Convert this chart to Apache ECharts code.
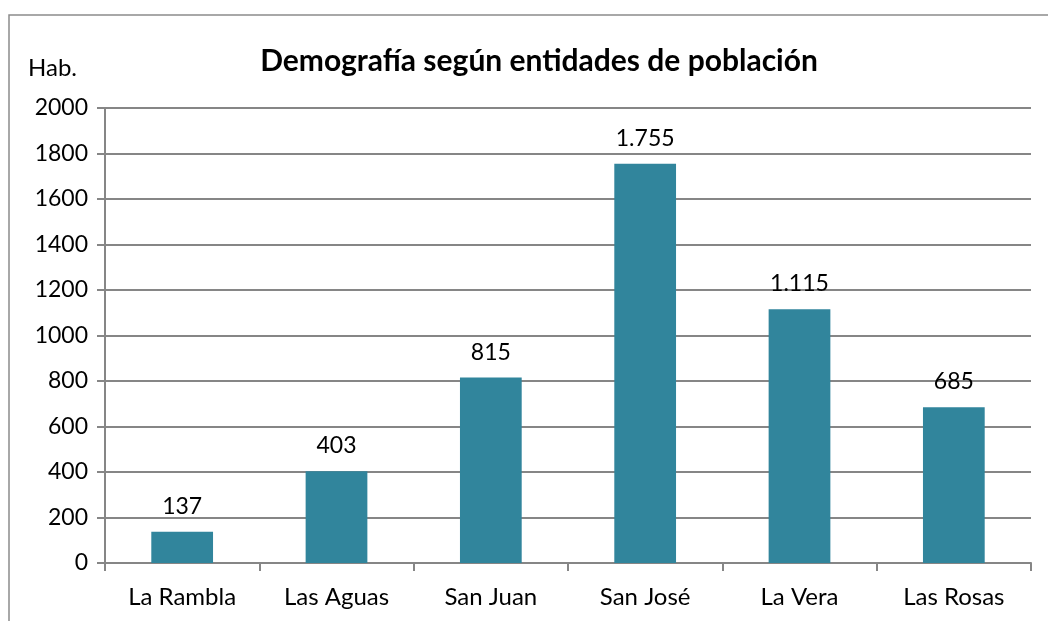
<!DOCTYPE html>
<html>
<head>
<meta charset="utf-8">
<script src="https://cdn.jsdelivr.net/npm/echarts@6/dist/echarts.min.js"></script>
<style>
  html, body { margin: 0; padding: 0; background: #fff; }
  #chart { width: 1048px; height: 621px; }
</style>
</head>
<body>
<div id="chart"></div>
<script>
// datos
var categorias = ['La Rambla', 'Las Aguas', 'San Juan', 'San José', 'La Vera', 'Las Rosas']
var habitantes = [137, 403, 815, 1755, 1115, 685]
var titulo = 'Demografía según entidades de población'

function fmtMiles(v) {
  return String(v).replace(/\B(?=(\d{3})+(?!\d))/g, '.')
}

var myChart = echarts.init(document.getElementById('chart'))
var fuente = 'Lato, "Open Sans", sans-serif'
var option = {
  animation: false,
  textStyle: { fontFamily: fuente },
  title: {
    text: titulo,
    left: 534,
    top: 41,
    textAlign: 'center',
    textStyle: { fontSize: 30, fontWeight: 'bold', color: '#000', fontFamily: fuente }
  },
  graphic: [
    {
      type: 'rect',
      shape: { x: 9, y: 15, width: 1100, height: 700 },
      style: { fill: 'none', stroke: '#8c8c8c', lineWidth: 1.5 },
      silent: true
    }
  ],
  grid: {
    left: 105,
    right: 17,
    top: 108,
    bottom: 58
  },
  xAxis: {
    type: 'category',
    data: categorias,
    axisLine: { lineStyle: { color: '#868686', width: 2 } },
    axisTick: { show: true, length: 8, lineStyle: { color: '#868686', width: 2 } },
    axisLabel: { color: '#000', fontSize: 24, margin: 22, fontFamily: fuente }
  },
  yAxis: {
    type: 'value',
    name: 'Hab.',
    nameLocation: 'end',
    nameGap: 28,
    nameTextStyle: { color: '#000', fontSize: 24, align: 'right', padding: [0, 28, 0, 0], fontFamily: fuente },
    min: 0,
    max: 2000,
    interval: 200,
    axisLine: { show: true, lineStyle: { color: '#868686', width: 2 } },
    axisTick: { show: true, length: 8, lineStyle: { color: '#868686', width: 2 } },
    axisLabel: {
      color: '#000',
      fontSize: 23,
      margin: 17,
      fontFamily: fuente,
      formatter: function (v) { return String(v) }
    },
    splitLine: { lineStyle: { color: '#868686', width: 2 } }
  },
  series: [
    {
      type: 'bar',
      data: habitantes,
      barWidth: '40%',
      itemStyle: { color: '#31859C' },
      label: {
        show: true,
        position: 'top',
        distance: 14,
        color: '#000',
        fontSize: 23,
        fontFamily: fuente,
        formatter: function (p) { return fmtMiles(p.value) }
      }
    }
  ]
}
myChart.setOption(option)
</script>
</body>
</html>
